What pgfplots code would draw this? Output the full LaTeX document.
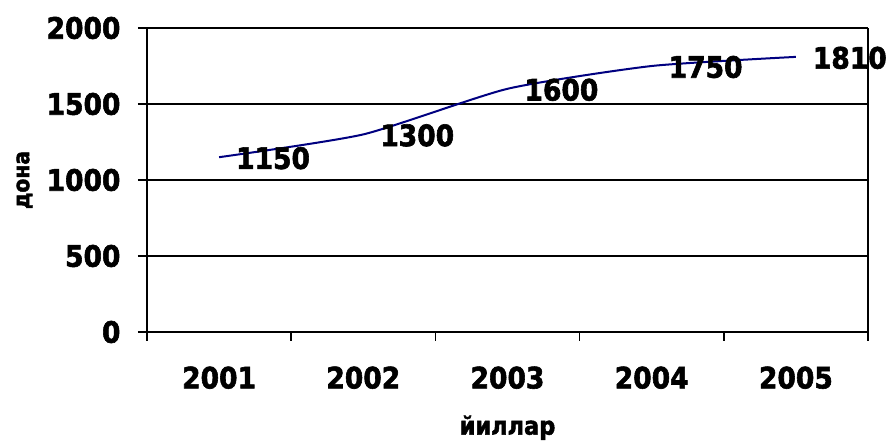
\documentclass[border=0pt]{standalone}
\usepackage{fontspec}
\setmainfont{DejaVu Sans Condensed}[BoldFeatures={FakeBold=2}]
\usepackage{pgfplots}
\pgfplotsset{compat=1.18}
\definecolor{linenavy}{RGB}{0,0,128}
\begin{document}
\begin{tikzpicture}[x=1pt,y=1pt]
  \useasboundingbox (0,0) rectangle (886,441);
  \begin{axis}[
    at={(147pt,109pt)}, anchor=south west,
    width=721pt, height=304pt, scale only axis,
    xmin=-0.5, xmax=4.5,
    ymin=0, ymax=2000,
    xtick={-0.5,0.5,1.5,2.5,3.5,4.5},
    x tick label as interval,
    xticklabels={2001,2002,2003,2004,2005},
    ytick={0,500,1000,1500,2000},
    ymajorgrids=true,
    grid style={black, line width=1.4pt},
    axis line style={black, line width=1.5pt},
    tick style={black, line width=1.5pt},
    tick align=outside,
    major tick length=9pt,
    axis x line*=bottom,
    axis y line*=left,
    every x tick label/.style={yshift=-22pt},
    yticklabel style={xshift=-14pt},
    tick label style={font=\fontsize{29.5}{32}\selectfont\bfseries},
    /pgf/number format/assume math mode=true,
    /pgf/number format/1000 sep={},
    xlabel={йиллар},
    ylabel={дона},
    xlabel style={font=\fontsize{25}{28}\selectfont\bfseries, at={(axis description cs:0.5,0)}, anchor=north, yshift=-80pt},
    ylabel style={font=\fontsize{22.5}{25}\selectfont\bfseries, at={(axis description cs:-0.17,0.5)}, anchor=center},
    clip=false,
  ]
    \draw[black, line width=1.5pt] (axis cs:4.5,0) -- (axis cs:4.5,2000);
    \addplot[linenavy, line width=2pt, smooth, tension=0.35,
      nodes near coords,
      every node near coord/.append style={font=\fontsize{29.5}{32}\selectfont\bfseries, black, anchor=west, inner sep=0pt, xshift=16pt, yshift=-1pt},
    ] coordinates {
      (0,1150) (1,1300) (2,1600) (3,1750) (4,1810)
    };
  \end{axis}
\end{tikzpicture}
\end{document}
